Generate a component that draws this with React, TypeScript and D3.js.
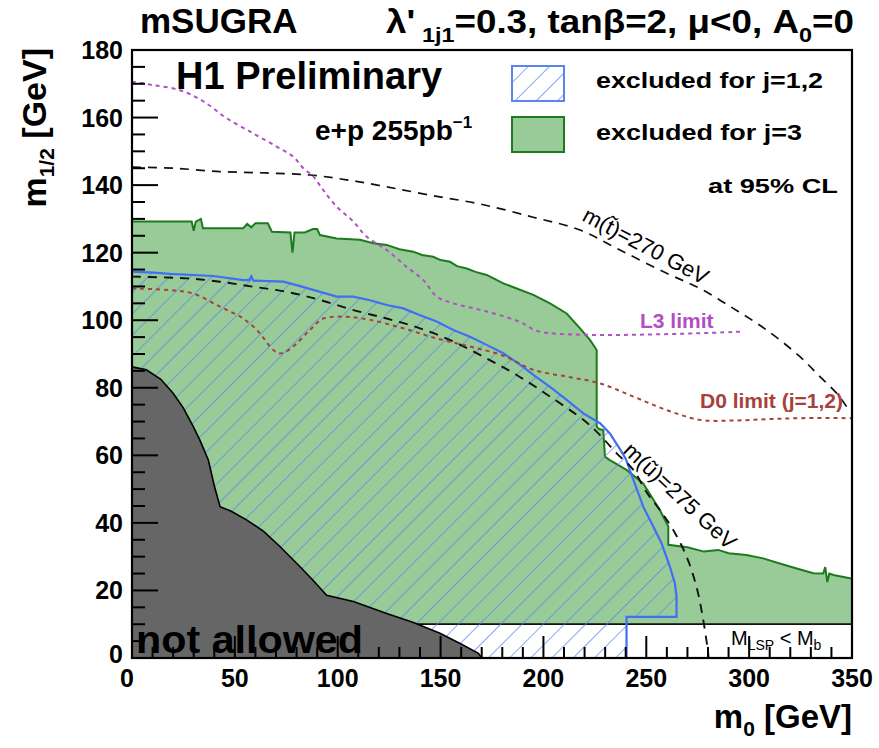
import React from "react";
import * as d3 from "d3";

type P = [number, number];

// ---- data (m0 [GeV], m1/2 [GeV]) ----
const notAllowed: P[] = [
  [0, 86.2], [7, 85.3], [14, 82.5], [20, 78.4], [25, 74], [29.8, 68.5], [33, 64.5], [37.1, 58.6],
  [40, 51], [42.8, 44.8], [48, 43.5], [55.7, 40.9], [64, 37.5], [71.9, 33], [81.7, 27], [88, 23],
  [94.6, 18.6], [107.6, 16.7], [123.8, 13.2], [136.8, 10.5], [149.7, 7.3], [159.5, 4.3], [168.4, 1.4], [170, 0],
];

const excludedJ3: P[] = [
  [0, 129.2], [29, 129.2], [30, 126.5], [31, 129.2], [33.5, 130], [34.5, 127.2], [54, 127.2], [56, 128.5],
  [58, 127.5], [60, 128.7], [66, 128.7], [68, 126.2], [77, 126], [78, 120], [79, 126], [84, 126], [88, 127],
  [90, 127], [91.4, 125.2], [99.5, 124.2], [110.8, 123.8], [117.3, 122.8], [123.8, 122.3], [130, 121],
  [136.7, 120.3], [141, 119.3], [146.4, 118.8], [150, 117.8], [154.6, 117.3], [158, 116], [162.7, 115.3],
  [167, 114.3], [172.4, 113.4], [176, 112.3], [180.5, 110.9], [187, 109.4], [195.1, 107.5], [203.2, 105],
  [211.3, 102], [217.8, 97.6], [222.7, 94.1], [225.9, 91.2], [225.9, 68.5], [227, 67.8], [229.1, 67.5],
  [229.9, 59.6], [232.3, 58.6], [240.4, 55.7], [248.5, 51.7], [256.6, 43.8], [260.7, 38.9], [260.7, 33.5],
  [270, 32.8], [278, 31.5], [285, 32], [290, 31], [298.7, 30.5], [306.8, 29.5], [314.9, 28], [323.1, 26.5],
  [331.2, 25.1], [336, 25], [337, 26.9], [338, 22.5], [339, 25], [341, 24.6], [349, 23.6], [350, 23.5],
];
const lspLimit = 10;

const excludedJ12: P[] = [
  [0, 114.4], [10.4, 114.1], [18.5, 113.7], [39.5, 113.1], [54.1, 111.9], [57, 111.9], [58, 113], [59, 111.7],
  [73.6, 111.4], [81.7, 110.1], [91.4, 108.4], [99.5, 107], [107.6, 107], [115.7, 105.9], [123.8, 104.5],
  [131.9, 103.5], [140, 101.5], [148.1, 99.6], [156.2, 97.1], [164.3, 95.1], [172.4, 92.7], [180.5, 90.2],
  [187.8, 87.2], [195.1, 83.8], [203.2, 80.3], [211.3, 76.4], [219.4, 72.4], [227.5, 69.5], [232.3, 66.5],
  [236.5, 62.5], [240, 59], [242.1, 55.5], [248.5, 44.8], [253.4, 38.9], [257.4, 34], [261.5, 27],
  [263.9, 22.1], [264.7, 18.2], [264.7, 12.2], [240.4, 12.2], [240.4, 0],
];

const stop270: P[] = [
  [0, 145.3], [20, 145], [42.8, 144], [65, 143.6], [86.5, 143], [105, 141.5], [123.8, 139.5], [145, 137],
  [169.2, 134.4], [195, 130.5], [217.8, 126.7], [237.2, 120.8], [259.9, 113.9], [276.1, 109.4], [292.3, 103.5],
  [308.5, 97.1], [324.7, 89.2], [334.4, 83.3], [342.5, 78.4], [347.4, 74.4],
];

const sup275: P[] = [
  [0, 112.9], [26.6, 112.4], [42.8, 111.4], [59, 109.9], [75.2, 108.4], [91.4, 106], [107.6, 103],
  [123.8, 100.5], [140, 97.6], [156.2, 93.7], [172.4, 88.7], [187, 83.8], [203.2, 77.4], [219.4, 70.5],
  [227.5, 66], [235.6, 60.6], [243.7, 55.7], [250.2, 49], [256.6, 43.8], [263.1, 37.9], [269.6, 30],
  [274.4, 21.1], [277.7, 11.2], [280.1, 1.4], [280.3, 0],
];

const l3Limit: P[] = [
  [0, 170.6], [10.4, 169.6], [23.3, 168.1], [34.7, 164.8], [46, 159.8], [59, 155.3], [70.3, 151.4],
  [78.4, 148.4], [83.3, 145], [88.2, 142.5], [93, 138.5], [99.5, 133.6], [107.6, 129.2], [114.1, 124.7],
  [123.8, 120.8], [133.5, 115.8], [141.6, 111.9], [148.1, 107], [156.2, 105], [172.4, 102.6], [188.6, 99.5],
  [198.3, 96.6], [295.5, 96.6],
];

const d0Limit: P[] = [
  [0, 109.4], [18.5, 108.9], [29.8, 107.9], [42.8, 104], [54.1, 100.5], [62.2, 96.1], [67.1, 92.2],
  [71.1, 90.2], [74, 90.5], [78.4, 92.2], [86.5, 97.1], [93, 100.5], [104.3, 101], [115.7, 100.1],
  [131.9, 97.6], [148.1, 94.6], [164.3, 92.2], [180.5, 89.5], [195.1, 85.3], [211.3, 83.3], [227.5, 81.3],
  [243.7, 77.4], [259.9, 73.4], [276.1, 70.5], [292.3, 70.3], [308.5, 70.7], [324.7, 71], [350, 71],
];

const xMajor = [0, 50, 100, 150, 200, 250, 300, 350];
const yMajor = [0, 20, 40, 60, 80, 100, 120, 140, 160, 180];

const FONT = "'Liberation Sans', Arial, Helvetica, sans-serif";

export default function App() {
  const x = d3.scaleLinear().domain([0, 350]).range([132, 852]);
  const y = d3.scaleLinear().domain([0, 180]).range([658, 50]);

  const lin = d3.line<P>().x((d) => x(d[0])).y((d) => y(d[1]));
  const smooth = d3.line<P>().x((d) => x(d[0])).y((d) => y(d[1])).curve(d3.curveCatmullRom.alpha(0.5));

  const greenPoly: P[] = [...excludedJ3, [350, lspLimit], [0, lspLimit]];
  const bluePoly: P[] = [...excludedJ12, [0, 0]];
  const grayPoly: P[] = [...notAllowed, [0, 0]];

  const xMinor = d3.range(0, 351, 10).filter((v) => v % 50 !== 0);
  const yMinor = d3.range(0, 181, 5).filter((v) => v % 20 !== 0);

  const x0 = x(0), y0 = y(0);

  return (
    <svg width={879} height={748} style={{ position: "absolute", left: 0, top: 0, background: "#fff" }}
      fontFamily={FONT} fontWeight="bold">
      <defs>
        <pattern id="hatch" patternUnits="userSpaceOnUse" width={15} height={15} patternTransform="rotate(45)">
          <line x1={0} y1={-1} x2={0} y2={16} stroke="#5585ea" strokeWidth={1.4} />
        </pattern>
        <clipPath id="plot">
          <rect x={x(0)} y={y(180)} width={x(350) - x(0)} height={y(0) - y(180)} />
        </clipPath>
      </defs>

      <g clipPath="url(#plot)">
        <path d={lin(greenPoly) ?? ""} fill="#99cb99" stroke="none" />
        <path d={lin(excludedJ3) ?? ""} fill="none" stroke="#1d7a1d" strokeWidth={2} />
        <line x1={x(0)} x2={x(350)} y1={y(lspLimit)} y2={y(lspLimit)} stroke="#111" strokeWidth={1.8} />
        <path d={lin(bluePoly) ?? ""} fill="url(#hatch)" stroke="none" />
        <path d={lin(excludedJ12) ?? ""} fill="none" stroke="#3f6ff2" strokeWidth={2.2} />
        <path d={smooth(stop270) ?? ""} fill="none" stroke="#111" strokeWidth={1.7} strokeDasharray="9,7" />
        <path d={smooth(sup275) ?? ""} fill="none" stroke="#111" strokeWidth={1.9} strokeDasharray="9,7" />
        <path d={smooth(l3Limit) ?? ""} fill="none" stroke="#b24fc4" strokeWidth={2} strokeDasharray="4,4" />
        <path d={smooth(d0Limit) ?? ""} fill="none" stroke="#a8403c" strokeWidth={2} strokeDasharray="4,4" />
        <path d={lin(grayPoly) ?? ""} fill="#666666" stroke="#000" strokeWidth={1.6} />
      </g>

      {/* frame */}
      <rect x={x(0)} y={y(180)} width={x(350) - x(0)} height={y(0) - y(180)} fill="none" stroke="#000" strokeWidth={2.2} />

      {/* ticks */}
      {yMajor.map((v) => <line key={"ym" + v} x1={x0} x2={x0 + 26} y1={y(v)} y2={y(v)} stroke="#000" strokeWidth={2} />)}
      {yMinor.map((v) => <line key={"yn" + v} x1={x0} x2={x0 + 13} y1={y(v)} y2={y(v)} stroke="#000" strokeWidth={2} />)}
      {xMajor.map((v) => <line key={"xm" + v} x1={x(v)} x2={x(v)} y1={y0} y2={y0 - 22} stroke="#000" strokeWidth={2} />)}
      {xMinor.map((v) => <line key={"xn" + v} x1={x(v)} x2={x(v)} y1={y0} y2={y0 - 11} stroke="#000" strokeWidth={2} />)}

      {/* tick labels */}
      {yMajor.map((v) => (
        <text key={"yl" + v} x={123} y={v === 0 ? y(v) - 4 : y(v)} textAnchor="end" dominantBaseline="central" fontSize={25}>{v}</text>
      ))}
      {xMajor.map((v) => (
        <text key={"xl" + v} x={v === 0 ? x(v) - 5 : x(v)} y={687} textAnchor="middle" fontSize={25}>{v}</text>
      ))}

      {/* axis titles */}
      <text x={852} y={728} textAnchor="end" fontSize={33}>
        m<tspan fontSize={21} dy={8}>0</tspan><tspan dy={-8}> [GeV]</tspan>
      </text>
      <text transform="translate(46,48) rotate(-90)" textAnchor="end" fontSize={34}>
        m<tspan fontSize={21} dy={8}>1/2</tspan><tspan dy={-8}> [GeV]</tspan>
      </text>

      {/* header */}
      <text x={140} y={33} fontSize={35}>mSUGRA</text>
      <text transform="translate(386,33) scale(1.115,1)" x={0} y={0} fontSize={33}>
        λ'<tspan fontSize={21} dy={9} dx={6}>1j1</tspan><tspan dy={-9}>=0.3, tanβ=2, μ&lt;0, A</tspan>
        <tspan fontSize={21} dy={9}>0</tspan><tspan dy={-9}>=0</tspan>
      </text>

      <text x={176} y={89} fontSize={38}>H1 Preliminary</text>
      <text x={315} y={140} fontSize={28}>e+p 255pb<tspan fontSize={17} dy={-12}>−1</tspan></text>

      {/* legend */}
      <rect x={512} y={66} width={52} height={35} fill="url(#hatch)" stroke="#5a84f0" strokeWidth={2} />
      <rect x={512} y={117} width={52} height={35} fill="#99cb99" stroke="#1d7a1d" strokeWidth={2} />
      <text x={596} y={88} fontSize={22} textLength={227} lengthAdjust="spacingAndGlyphs">excluded for j=1,2</text>
      <text x={596} y={140} fontSize={22} textLength={206} lengthAdjust="spacingAndGlyphs">excluded for j=3</text>
      <text x={708} y={193} fontSize={21} textLength={130} lengthAdjust="spacingAndGlyphs">at 95% CL</text>

      {/* curve labels */}
      <text transform="translate(581,220) rotate(28)" fontSize={22} fontWeight="normal">m(t&#x0303;)=270 GeV</text>
      <text transform="translate(622,452) rotate(43)" fontSize={22} fontWeight="normal">m(ũ)=275 GeV</text>
      <text x={640} y={328} fontSize={21} fill="#b24fc4">L3 limit</text>
      <text x={700} y={408} fontSize={21} fill="#a8403c">D0 limit (j=1,2)</text>
      <text x={731} y={645} fontSize={20} fontWeight="normal">
        M<tspan fontSize={14} dy={5}>LSP</tspan><tspan dy={-5}> &lt; M</tspan><tspan fontSize={14} dy={5}>b</tspan>
      </text>
      <text x={136} y={653} fontSize={38} textLength={227} lengthAdjust="spacingAndGlyphs">not allowed</text>
    </svg>
  );
}
